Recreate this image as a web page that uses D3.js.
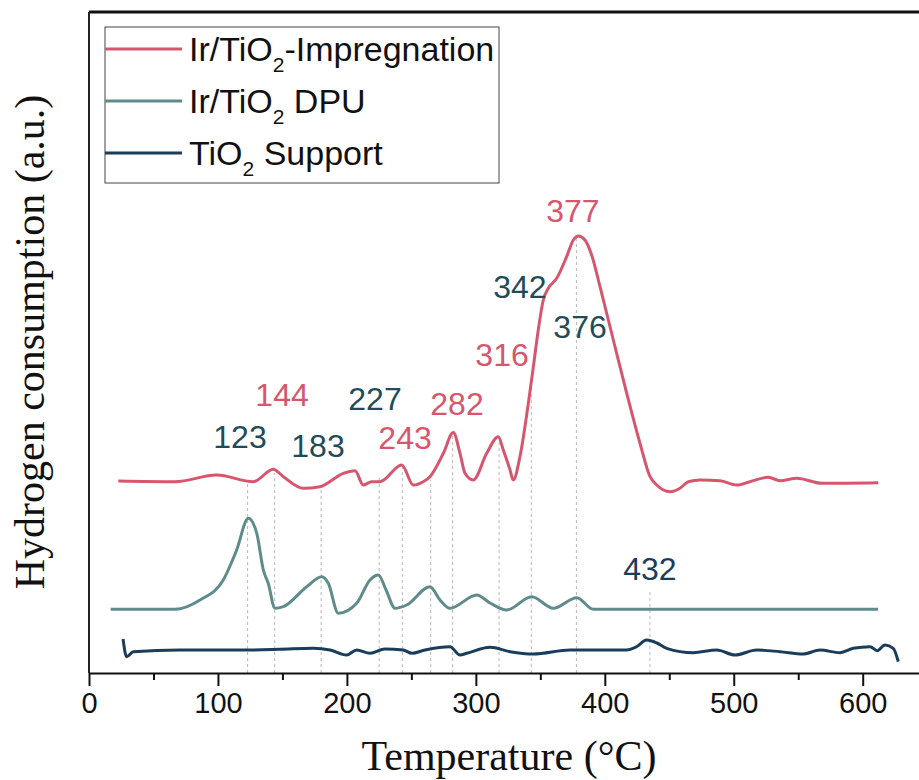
<!DOCTYPE html>
<html>
<head>
<meta charset="utf-8">
<script src="https://cdn.jsdelivr.net/npm/d3@7"></script>
<style>
  html, body { margin: 0; padding: 0; background: #fff; }
  svg { display: block; }
</style>
</head>
<body>
<div id="chart"></div>
<script>
// Temperature (°C) and signal (a.u.)
const impTemp = [22.7, 66.7, 99.0, 127.4, 142.9, 150.7, 166.2, 179.1, 197.2, 206.3, 212.7, 219.2, 225.7,
  242.5, 251.5, 259.2, 264.4, 274.8, 282.5, 287.7, 291.6, 298.0, 308.4, 317.4, 321.3, 326.5, 329.0, 334.2,
  340.7, 344.6, 348.4, 352.3, 356.2, 362.7, 370.4, 375.6, 379.5, 384.6, 389.8, 396.3, 406.6, 417.0, 427.3,
  435.1, 440.3, 450.6, 458.3, 464.8, 473.9, 489.4, 502.3, 512.6, 526.8, 535.9, 548.8, 568.2, 612.1];
const impValue = [19.2, 19.13, 19.8, 19.13, 20.37, 19.63, 18.47, 18.63, 19.97, 20.23, 18.8, 19.13, 19.13,
  20.8, 18.8, 19.13, 19.63, 21.97, 24.05, 21.97, 19.97, 19.3, 21.97, 23.63, 22.3, 20.3, 19.3, 21.63,
  26.97, 30.63, 34.3, 37.3, 38.47, 39.47, 41.63, 43.3, 43.7, 43.3, 41.8, 38.63, 33.3, 27.97, 22.97,
  19.63, 18.8, 18.13, 18.47, 19.13, 19.3, 19.23, 18.8, 19.13, 19.57, 19.23, 19.47, 18.97, 19.03];

const dpuTemp = [16.8, 66.7, 86.1, 104.1, 114.5, 123.5, 130.1, 135.2, 139.0, 144.2, 150.7, 168.8, 180.5,
  185.6, 193.3, 207.6, 217.9, 224.4, 230.4, 237.3, 246.4, 264.4, 272.2, 279.9, 300.7, 311.0, 323.9, 343.3,
  360.1, 378.2, 391.1, 611.9];
const dpuValue = [6.37, 6.37, 7.3, 9.3, 12.3, 15.47, 13.97, 10.3, 8.97, 6.47, 6.63, 8.63, 9.63,
  8.97, 5.97, 6.97, 9.3, 9.8, 8.3, 6.47, 6.8, 8.63, 7.3, 6.47, 7.8, 7.0, 6.3, 7.63,
  6.47, 7.53, 6.37, 6.37];

const supTemp = [26.4, 29.2, 34.4, 70.6, 122.3, 148.1, 173.9, 186.9, 199.8, 207.6, 217.9, 229.5, 243.7,
  250.3, 260.6, 280.0, 287.7, 292.9, 311.0, 326.5, 344.6, 373.1, 417.0, 424.2, 432.5, 440.5, 448.0, 468.6,
  486.8, 501.0, 517.8, 535.9, 553.9, 566.9, 582.4, 592.7, 605.7, 611.3, 617.3, 623.7, 627.6];
const supValue = [3.4, 1.63, 2.13, 2.3, 2.3, 2.37, 2.47, 2.3, 1.8, 2.3, 1.97, 2.4, 2.3,
  1.97, 2.3, 2.63, 1.8, 1.97, 2.57, 2.13, 1.9, 2.3, 2.3, 2.6, 3.3, 3.0, 2.47, 2.03,
  2.3, 1.8, 2.3, 2.13, 1.9, 2.3, 2.03, 2.47, 2.63, 2.23, 2.8, 2.47, 1.13];

// peak labels
const peakText = ["123", "144", "183", "227", "243", "282", "316", "342", "376", "377", "432"];
const peakTemp = [117.1, 149.7, 177.6, 221.8, 245.1, 285.4, 320.3, 334.2, 380.8, 375.3, 435.0];
const peakValue = [22.5, 26.7, 21.6, 26.3, 22.4, 25.8, 30.7, 37.5, 33.5, 45.1, 9.3];
const peakSeries = ["dpu", "imp", "dpu", "dpu", "imp", "imp", "imp", "dpu", "dpu", "imp", "sup"];

// dotted guide lines (temperature, top value)
const guideTemp = [123, 144, 180, 225, 243, 265, 282, 318, 343, 378, 435];
const guideTop = [19.0, 20.0, 18.6, 19.6, 20.6, 19.3, 24.0, 23.6, 28.6, 43.6, 8.3];

const xTicks = [0, 100, 200, 300, 400, 500, 600];
const xMinorTicks = [50, 150, 250, 350, 450, 550];

const seriesNames = ["Ir/TiO|2|-Impregnation", "Ir/TiO|2| DPU", "TiO|2| Support"];
const colors = { imp: "#d8566d", dpu: "#5f8b8c", sup: "#1b3d5c" };
const labelColors = { imp: "#d8566d", dpu: "#1f4c58", sup: "#1b3d5c" };

const width = 919, height = 780;
const svg = d3.select("#chart").append("svg")
  .attr("width", width).attr("height", height);
svg.append("rect").attr("width", width).attr("height", height).attr("fill", "#fff");

const x = d3.scaleLinear().domain([0, 600]).range([89, 862.7]);
const y = d3.scaleLinear().domain([0, 66.1]).range([673, 12]);
const xEnd = 645;

// guides
svg.append("g").selectAll("line")
  .data(guideTemp)
  .enter().append("line")
  .attr("x1", d => x(d)).attr("x2", d => x(d))
  .attr("y1", y(0)).attr("y2", (d, i) => y(guideTop[i]))
  .attr("stroke", "#b9b9b9").attr("stroke-width", 1)
  .attr("stroke-dasharray", "3,3");

// curves
const line = d3.line()
  .x(d => x(d[0])).y(d => y(d[1]))
  .curve(d3.curveMonotoneX);
const curves = [
  { key: "sup", pts: d3.zip(supTemp, supValue) },
  { key: "dpu", pts: d3.zip(dpuTemp, dpuValue) },
  { key: "imp", pts: d3.zip(impTemp, impValue) }
];
svg.append("g").selectAll("path")
  .data(curves)
  .enter().append("path")
  .attr("d", d => line(d.pts))
  .attr("fill", "none")
  .attr("stroke", d => colors[d.key])
  .attr("stroke-width", 3)
  .attr("stroke-linejoin", "round");

// peak labels
svg.append("g").selectAll("text")
  .data(peakText)
  .enter().append("text")
  .attr("x", (d, i) => x(peakTemp[i]))
  .attr("y", (d, i) => y(peakValue[i]))
  .attr("text-anchor", "middle")
  .attr("font-family", "'Liberation Sans', Arial, sans-serif")
  .attr("font-size", 32)
  .attr("fill", (d, i) => labelColors[peakSeries[i]])
  .text(d => d);

// frame
svg.append("line").attr("x1", x(0)).attr("x2", x(xEnd)).attr("y1", y(66.1)).attr("y2", y(66.1))
  .attr("stroke", "#111").attr("stroke-width", 3);
svg.append("line").attr("x1", x(0)).attr("x2", x(0)).attr("y1", y(66.1)).attr("y2", y(0))
  .attr("stroke", "#222").attr("stroke-width", 2);

// x axis
const xAxisScale = x.copy().domain([0, xEnd]).range([x(0), x(xEnd)]);
const xAxis = svg.append("g")
  .attr("transform", `translate(0,${y(0)})`)
  .call(d3.axisBottom(xAxisScale).tickValues(xTicks).tickSize(13).tickSizeOuter(0).tickPadding(6));
xAxis.select(".domain").attr("stroke", "#111").attr("stroke-width", 2);
xAxis.selectAll(".tick line").attr("stroke", "#111").attr("stroke-width", 2);
xAxis.selectAll(".tick text")
  .attr("font-family", "'Liberation Sans', Arial, sans-serif")
  .attr("font-size", 29).attr("fill", "#111");
svg.append("g")
  .attr("transform", `translate(0,${y(0)})`)
  .call(d3.axisBottom(xAxisScale).tickValues(xMinorTicks).tickSize(7).tickFormat(""))
  .call(g => g.select(".domain").remove())
  .selectAll(".tick line").attr("stroke", "#111").attr("stroke-width", 2);

// axis titles
svg.append("text")
  .attr("x", 509).attr("y", 770)
  .attr("text-anchor", "middle")
  .attr("font-family", "'Liberation Serif', 'Times New Roman', serif")
  .attr("font-size", 42).attr("fill", "#111")
  .text("Temperature (°C)");
svg.append("text")
  .attr("transform", "translate(44,342) rotate(-90)")
  .attr("text-anchor", "middle")
  .attr("font-family", "'Liberation Serif', 'Times New Roman', serif")
  .attr("font-size", 42).attr("fill", "#111")
  .text("Hydrogen consumption (a.u.)");

// legend
const legend = svg.append("g").attr("transform", "translate(105,27)");
legend.append("rect").attr("width", 394).attr("height", 156)
  .attr("fill", "#fff").attr("stroke", "#444").attr("stroke-width", 1);
const legendKeys = ["imp", "dpu", "sup"];
const item = legend.selectAll(".item")
  .data(seriesNames)
  .enter().append("g")
  .attr("class", "item")
  .attr("transform", (d, i) => `translate(0,${22 + i * 52})`);
item.append("line")
  .attr("x1", 0).attr("x2", 77)
  .attr("stroke", (d, i) => colors[legendKeys[i]]).attr("stroke-width", 3);
const ltext = item.append("text")
  .attr("x", 84).attr("y", 12)
  .attr("font-family", "'Liberation Sans', Arial, sans-serif")
  .attr("font-size", 34).attr("fill", "#111");
ltext.each(function(d) {
  const parts = d.split("|");
  const t = d3.select(this);
  t.append("tspan").text(parts[0]);
  t.append("tspan").attr("font-size", 21).attr("dy", 11).text(parts[1]);
  t.append("tspan").attr("dy", -11).text(parts[2]);
});
</script>
</body>
</html>
